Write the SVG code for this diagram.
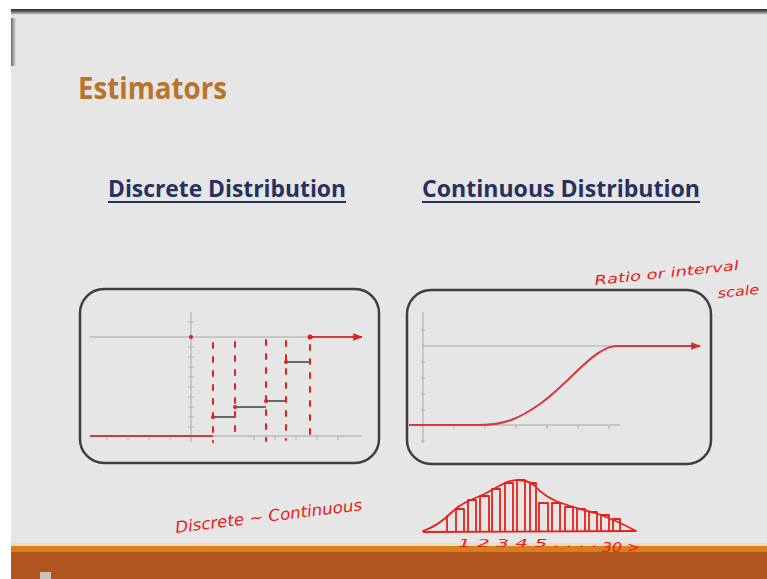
<svg xmlns="http://www.w3.org/2000/svg" width="767" height="579" viewBox="0 0 767 579">
  <defs>
    <linearGradient id="topShade" x1="0" y1="0" x2="0" y2="1">
      <stop offset="0" stop-color="#2a2a2a"/>
      <stop offset="0.35" stop-color="#555"/>
      <stop offset="1" stop-color="#e6e6e6"/>
    </linearGradient>
    <linearGradient id="leftShade" x1="0" y1="0" x2="1" y2="0">
      <stop offset="0" stop-color="#6a6a6a"/>
      <stop offset="1" stop-color="#e4e4e4"/>
    </linearGradient>
    <marker id="arrowRed" viewBox="0 0 8 8" refX="7" refY="4" markerWidth="5" markerHeight="5" orient="auto">
      <path d="M0,1 L8,4 L0,7 z" fill="#d42a2a"/>
    </marker>
  </defs>
  <style>
    .title { font-family: "Open Sans", "Noto Sans", sans-serif; font-weight: bold; fill: #b8742d; font-size: 30px; }
    .head { font-family: "Open Sans", "Noto Sans", sans-serif; font-weight: bold; fill: #27315f; font-size: 23px; }
    .uline { stroke: #27315f; stroke-width: 2; }
    .box { fill: none; stroke: #3f3f3f; stroke-width: 2.5; }
    .axis { stroke: #a8a8a8; stroke-width: 1; fill: none; }
    .tick { stroke: #b4b4b4; stroke-width: 1; }
    .ink { fill: none; stroke: #e8201a; stroke-width: 1.8; stroke-linecap: round; stroke-linejoin: round; }
    .dash { fill: none; stroke: #e8201a; stroke-width: 2; stroke-dasharray: 5 9; stroke-linecap: round; }
    .step { stroke: #4a4a4a; stroke-width: 1.6; }
    .curve { fill: none; stroke: #d43a3a; stroke-width: 2; }
    .hand { font-family: "DejaVu Sans Condensed", "DejaVu Sans", sans-serif; font-style: italic; fill: #e8201a; }
  </style>

  <!-- page and slide frame -->
  <rect x="0" y="0" width="767" height="579" fill="#ffffff"/>
  <rect x="11" y="11" width="756" height="568" fill="#e6e6e6"/>
  <rect x="11" y="9" width="756" height="6" fill="url(#topShade)"/>
  <rect x="11" y="18" width="5" height="48" fill="url(#leftShade)"/>

  <!-- footer band -->
  <rect x="11" y="543" width="756" height="3" fill="#f4d9b8"/>
  <rect x="11" y="546" width="756" height="6" fill="#d9801c"/>
  <rect x="11" y="552" width="756" height="27" fill="#b1541f"/>
  <rect x="40" y="572" width="11" height="7" fill="#c9c2bd"/>

  <!-- titles -->
  <g id="title">
    <text class="title" x="78" y="99" textLength="149" lengthAdjust="spacingAndGlyphs">Estimators</text>
  </g>
  <g id="discrete-heading">
    <text class="head" x="108" y="197" textLength="238" lengthAdjust="spacingAndGlyphs">Discrete Distribution</text>
    <line class="uline" x1="108" y1="202" x2="346" y2="202"/>
  </g>
  <g id="continuous-heading">
    <text class="head" x="422" y="197" textLength="278" lengthAdjust="spacingAndGlyphs">Continuous Distribution</text>
    <line class="uline" x1="422" y1="202" x2="700" y2="202"/>
  </g>

  <!-- discrete CDF panel -->
  <g id="discrete-chart">
    <rect class="box" x="80" y="289" width="299" height="174" rx="24" ry="24"/>
    <line class="axis" x1="90" y1="337" x2="362" y2="337"/>
    <line class="axis" x1="90" y1="436" x2="362" y2="436"/>
    <line class="axis" x1="191" y1="312" x2="191" y2="442"/>
    <g class="tick">
      <line x1="188" y1="322" x2="194" y2="322"/><line x1="188" y1="347" x2="194" y2="347"/>
      <line x1="188" y1="357" x2="194" y2="357"/><line x1="188" y1="367" x2="194" y2="367"/>
      <line x1="188" y1="377" x2="194" y2="377"/><line x1="188" y1="387" x2="194" y2="387"/>
      <line x1="188" y1="397" x2="194" y2="397"/><line x1="188" y1="407" x2="194" y2="407"/>
      <line x1="188" y1="417" x2="194" y2="417"/><line x1="188" y1="427" x2="194" y2="427"/>
      <line x1="107" y1="436" x2="107" y2="440"/><line x1="128" y1="436" x2="128" y2="440"/>
      <line x1="149" y1="436" x2="149" y2="440"/><line x1="170" y1="436" x2="170" y2="440"/>
      <line x1="254" y1="436" x2="254" y2="440"/><line x1="275" y1="436" x2="275" y2="440"/>
      <line x1="296" y1="436" x2="296" y2="440"/><line x1="317" y1="436" x2="317" y2="440"/>
      <line x1="338" y1="436" x2="338" y2="440"/>
    </g>
    <!-- steps -->
    <line class="curve" x1="90" y1="436" x2="213" y2="436"/>
    <line class="step" x1="213" y1="417" x2="235" y2="417"/>
    <line class="step" x1="235" y1="407" x2="266" y2="407"/>
    <line class="step" x1="266" y1="401" x2="286" y2="401"/>
    <line class="step" x1="286" y1="362" x2="310" y2="362"/>
    <line class="curve" x1="310" y1="337" x2="362" y2="337" marker-end="url(#arrowRed)"/>
    <g fill="#e21c1c">
      <circle cx="213" cy="417" r="2"/><circle cx="235" cy="407" r="2"/>
      <circle cx="266" cy="401" r="2"/><circle cx="286" cy="362" r="2"/>
      <circle cx="310" cy="337" r="2.5"/><circle cx="191" cy="337" r="2"/>
    </g>
    <!-- hand-drawn vertical guides -->
    <line class="dash" x1="213" y1="343" x2="213" y2="442"/>
    <line class="dash" x1="235" y1="342" x2="235" y2="440"/>
    <line class="dash" x1="266" y1="340" x2="266" y2="441"/>
    <line class="dash" x1="286" y1="341" x2="286" y2="440"/>
    <line class="dash" x1="310" y1="345" x2="310" y2="442"/>
  </g>

  <!-- continuous CDF panel -->
  <g id="continuous-chart">
    <rect class="box" x="407" y="290" width="304" height="174" rx="24" ry="24"/>
    <line class="axis" x1="423" y1="346" x2="698" y2="346"/>
    <line class="axis" x1="423" y1="425" x2="620" y2="425"/>
    <line class="axis" x1="423" y1="312" x2="423" y2="443"/>
    <g class="tick">
      <line x1="421" y1="330" x2="425" y2="330"/><line x1="421" y1="362" x2="425" y2="362"/>
      <line x1="421" y1="378" x2="425" y2="378"/><line x1="421" y1="394" x2="425" y2="394"/>
      <line x1="421" y1="410" x2="425" y2="410"/><line x1="421" y1="441" x2="425" y2="441"/>
      <line x1="454" y1="425" x2="454" y2="429"/><line x1="485" y1="425" x2="485" y2="429"/>
      <line x1="516" y1="425" x2="516" y2="429"/><line x1="547" y1="425" x2="547" y2="429"/>
      <line x1="578" y1="425" x2="578" y2="429"/><line x1="609" y1="425" x2="609" y2="429"/>
    </g>
    <path class="curve" d="M409,425 L480,425 C505,425 520,418 540,404 C565,386 585,360 600,352 C608,347 612,346 620,346 L700,346" marker-end="url(#arrowRed)"/>
  </g>

  <!-- handwritten annotations -->
  <g id="note-scale">
    <text class="hand" x="595" y="285" font-size="13" textLength="145" lengthAdjust="spacingAndGlyphs" transform="rotate(-6 595 285)">Ratio or interval</text>
    <text class="hand" x="718" y="298" font-size="13" textLength="42" lengthAdjust="spacingAndGlyphs" transform="rotate(-6 718 298)">scale</text>
  </g>
  <g id="note-discrete">
    <text class="hand" x="176" y="533" font-size="16" textLength="188" lengthAdjust="spacingAndGlyphs" transform="rotate(-7 176 533)">Discrete ~ Continuous</text>
  </g>

  <!-- hand-drawn histogram -->
  <g id="histogram">
    <path class="ink" d="M423,531 C432,528 442,522 452,512 C460,504 470,500 480,496 C492,491 500,484 510,481 C518,479 528,480 535,486 C542,494 548,497 556,501 C568,506 580,509 595,513 C610,518 625,525 636,531 L424,532 Z"/>
    <g class="ink">
      <path d="M456,531 V509 H464 V531"/>
      <path d="M468,531 V500 H476 V531"/>
      <path d="M480,531 V496 H489 V531"/>
      <path d="M492,531 V489 H500 V531"/>
      <path d="M505,531 V483 H513 V531"/>
      <path d="M517,531 V480 H525 V531"/>
      <path d="M530,531 V483 H536 V531"/>
      <path d="M539,531 V503 H548 V531"/>
      <path d="M552,531 V503 H560 V531"/>
      <path d="M565,531 V507 H573 V531"/>
      <path d="M577,531 V509 H585 V531"/>
      <path d="M589,531 V512 H597 V531"/>
      <path d="M601,531 V515 H609 V531"/>
      <path d="M613,531 V519 H620 V531"/>
      <path d="M447,531 V516"/>
    </g>
    <text class="hand" x="458" y="547" font-size="11" textLength="140" lengthAdjust="spacingAndGlyphs">1 2 3   4   5  . . . .  </text>
    <text class="hand" x="602" y="552" font-size="14" textLength="38" lengthAdjust="spacingAndGlyphs">30 &gt;</text>
  </g>
</svg>
